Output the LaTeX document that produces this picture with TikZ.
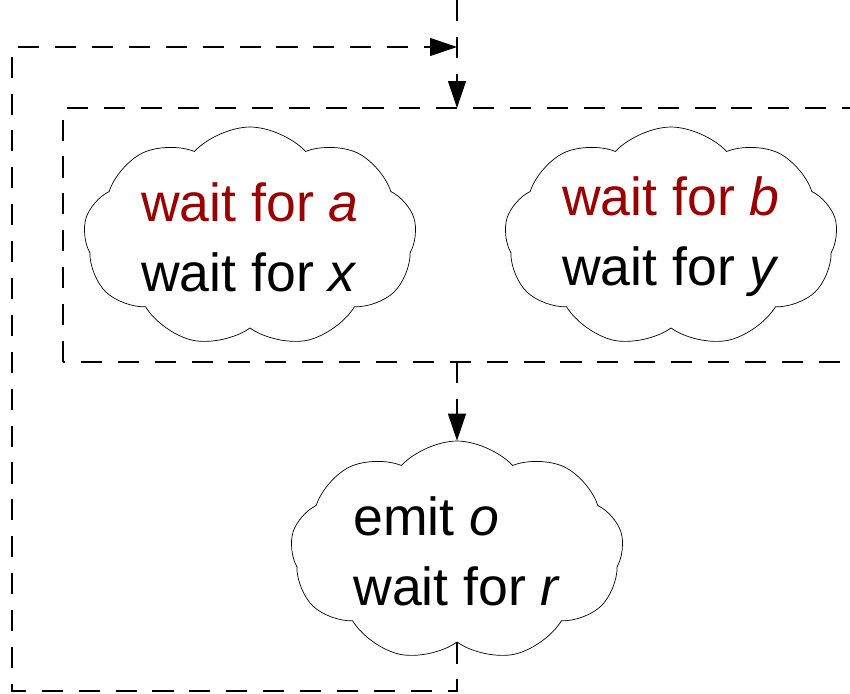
\documentclass[tikz,border=0pt]{standalone}
\usepackage{fontspec}
\setmainfont{Liberation Sans}
\usepackage{tikz}
\usetikzlibrary{positioning}
\usetikzlibrary{shapes.symbols}
\usetikzlibrary{arrows.meta}
\definecolor{waitred}{RGB}{153,0,0}

\begin{document}
\begin{tikzpicture}[x=0.02cm,y=0.02cm,
  flow/.style={dash pattern=on 12pt off 9pt,line width=0.6pt},
  thought/.style={cloud,cloud puffs=9,cloud puff arc=95,cloud ignores aspect,draw,line width=0.4pt,
    minimum width=6.66cm,minimum height=4.4cm,inner sep=0pt,align=left,
    font=\fontsize{30.5}{40}\selectfont},
  >={Triangle[length=0.54cm,width=0.36cm]}]
\useasboundingbox (0,0) rectangle (850,694);
\clip (0,0) rectangle (850,694);
\coordinate (in) at (457,694);
\coordinate (partop) at (457,586);
\coordinate (parbot) at (457,332);
\coordinate (back) at (457,647);
\coordinate (corner) at (12,3);
\draw[flow] (63,332) rectangle (880,586);
\foreach \n/\x/\s/\t in {wa/250/a/x,wb/671/b/y} {
\node[thought] (\n) at (\x,457) {\textcolor{waitred}{wait for \textit{\s}}\\wait for \textit{\t}};
}
\node[thought] (emit) at (457,143) {emit \textit{o}\\wait for \textit{r}};
\draw[flow,->] (in) -- (partop);
\draw[flow,->] (parbot) -- (emit.north);
\draw[flow,->] (emit.south) |- (corner) |- (back);
\end{tikzpicture}
\end{document}
